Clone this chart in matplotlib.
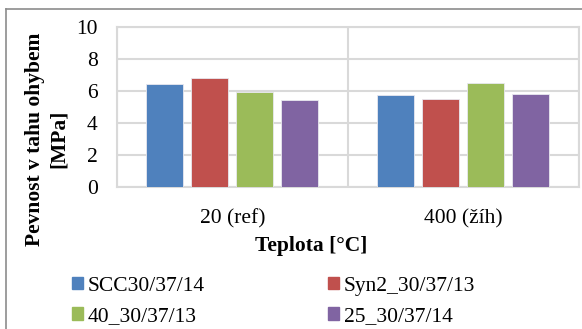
import matplotlib
matplotlib.use("Agg")
import matplotlib.pyplot as plt
from matplotlib.lines import Line2D
import numpy as np

plt.rcParams['font.family'] = ['Liberation Serif', 'DejaVu Serif']

categories = ["20 (ref)", "400 (žíh)"]
series_names = ["SCC30/37/14", "Syn2_30/37/13", "40_30/37/13", "25_30/37/14"]
values = {
    "SCC30/37/14": [6.4, 5.7],
    "Syn2_30/37/13": [6.8, 5.5],
    "40_30/37/13": [5.9, 6.5],
    "25_30/37/14": [5.4, 5.8],
}
colors = ["#4F81BD", "#C0504D", "#9BBB59", "#8064A2"]
yticks = [0, 2, 4, 6, 8, 10]

FS = 15.5
W, H = 582, 329
fig = plt.figure(figsize=(W / 100, H / 100), dpi=100)

# outer frame of the chart (top and left edges visible)
fig.add_artist(Line2D([6 / W, 1.0], [1 - 9 / H, 1 - 9 / H], color="#8c8c8c", lw=1.2))
fig.add_artist(Line2D([6 / W, 6 / W], [0, 1 - 9 / H], color="#8c8c8c", lw=1.2))

left, right, top, bottom = 117, 578.5, 26.5, 186.7
ax = fig.add_axes([left / W, 1 - bottom / H, (right - left) / W, (bottom - top) / H])

x = np.arange(len(categories))
step = 0.195
width = 0.16
for i, (name, c) in enumerate(zip(series_names, colors)):
    ax.bar(x + (i - 1.5) * step, values[name], width, color=c, label=name,
           edgecolor="#e8e8f0", linewidth=0.6, zorder=3)

ax.set_xlim(-0.5, len(categories) - 0.5)
ax.set_ylim(0, 10)
ax.set_yticks(yticks)
ax.set_xticks(x)
ax.set_xticklabels(categories, fontsize=FS)
ax.tick_params(axis='y', labelsize=FS, length=0, pad=14)
ax.tick_params(axis='x', length=0, pad=16)

grid_c = "#d9d9d9"
ax.yaxis.grid(True, color=grid_c, lw=1.5, zorder=0)
for xv in np.arange(-0.5, len(categories), 1.0):
    ax.axvline(xv, color=grid_c, lw=1.5, zorder=0)
for s in ax.spines.values():
    s.set_color(grid_c)
    s.set_linewidth(1.5)

# axis titles, centred on the chart area
fig.text(311 / W, 1 - 246 / H, "Teplota [°C]", fontsize=FS, fontweight='bold',
         ha='center', va='center')
fig.text(47 / W, 1 - 139 / H, "Pevnost v tahu ohybem\n[MPa]", fontsize=FS,
         fontweight='bold', rotation=90, ha='center', va='center',
         multialignment='center', linespacing=1.28)

# legend filled row by row: reorder for column-wise filling
order = [0, 2, 1, 3]
leg_handles = [plt.Rectangle((0, 0), 1, 1, color=colors[k]) for k in order]
leg_labels = [series_names[k] for k in order]
fig.legend(leg_handles, leg_labels, loc='upper left', bbox_to_anchor=(72 / W, 1 - 277 / H),
           ncol=2, frameon=False, fontsize=FS, handlelength=0.5, handleheight=0.5,
           handletextpad=0.22, columnspacing=5.75, labelspacing=0.52, borderaxespad=0,
           borderpad=0)

fig.savefig("out.png", dpi=100)
